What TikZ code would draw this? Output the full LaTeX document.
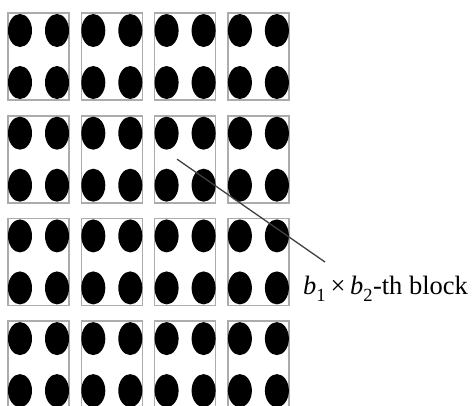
\documentclass[tikz,border=0pt]{standalone}
\usepackage{fontspec}
\setmainfont{Liberation Serif}

\tikzset{
    blockbox/.style={draw=gray!65, line width=1.6pt, rectangle, minimum width=61pt, minimum height=87pt, inner sep=0pt},
}

\begin{document}
\begin{tikzpicture}[x=1pt, y=-1pt]
    \useasboundingbox (0,0) rectangle (472,405);
    \clip (0,0) rectangle (472,405);

    % 4x4 blocks, each with 2x2 dots
    \foreach \r in {1,...,4} {
        \foreach \c in {1,...,4} {
            \node[blockbox] (b-\r-\c) at ({38.5+73.3*(\c-1)}, {56.5+102.7*(\r-1)}) {};
            \fill (b-\r-\c.center) ++(-18.5,-26) ellipse (12 and 16.5);
            \fill (b-\r-\c.center) ++(18.5,-26) ellipse (12 and 16.5);
            \fill (b-\r-\c.center) ++(-18.5,26) ellipse (12 and 16.5);
            \fill (b-\r-\c.center) ++(18.5,26) ellipse (12 and 16.5);
        }
    }

    \node[anchor=base west, font=\fontsize{26.5}{30}\selectfont, inner sep=0pt] (lbl) at (303,294)
        {\textit{b}\raisebox{-0.35ex}{\textsubscript{1}}\,×\,\textit{b}\raisebox{-0.35ex}{\textsubscript{2}}-th block};
    \coordinate (lblend) at (325,262);

    \draw[line width=1.3pt, black!75] ([xshift=-8]b-2-3.center) -- (lblend);
\end{tikzpicture}
\end{document}
